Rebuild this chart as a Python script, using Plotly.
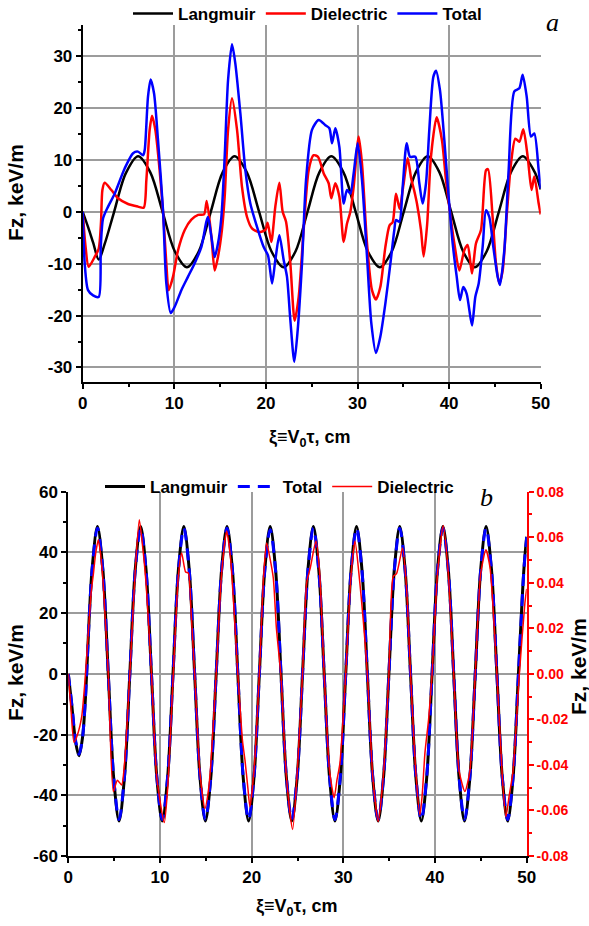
import plotly.graph_objects as go

# ---------------- panel a : wake fields along the bunch ----------------
lang_a_x = [0, 0.6, 1.15, 1.75, 2.4, 3.4, 4.7, 6.05, 7.38, 8.72, 10.05, 11.38, 12.68, 13.98,
            15.28, 16.58, 17.92, 19.26, 20.6, 21.94, 23.24, 24.54, 25.84, 27.14, 28.47, 29.8,
            31.12, 32.45, 33.75, 35.05, 36.36, 37.66, 38.95, 40.23, 41.52, 42.8, 44.11, 45.43,
            46.74, 48.05, 49.36, 50.0]
lang_a_y = [0, -3.0, -6.0, -9.2, -6.2, -0.2, 7.4, 10.7, 7.6, 0, -7.6, -10.7, -7.6, 0,
            7.6, 10.7, 7.6, 0, -7.6, -10.7, -7.6, 0, 7.6, 10.7, 7.6, 0,
            -7.6, -10.7, -7.6, 0, 7.6, 10.7, 7.6, 0, -7.6, -10.7, -7.6, 0,
            7.6, 10.7, 7.6, 4.3]

diel_a_x = [0, 0.3, 0.65, 1.31, 1.75, 2.0, 2.15, 2.4, 3.13, 3.86, 4.95, 6.04, 6.66, 6.95,
            7.31, 7.57, 7.93, 8.4, 8.77, 9.13, 9.39, 9.86, 10.41, 11.14, 11.86, 12.6, 13.25,
            13.54, 14.05, 14.41, 14.77, 15.2, 15.5, 15.87, 16.3, 16.85, 17.39, 17.94, 18.48,
            19.21, 19.94, 20.19, 20.59, 21.03, 21.47, 21.83, 22.2, 22.67, 23.14, 23.58, 24.12,
            24.67, 25.2, 25.69, 26.31, 26.85, 27.14, 27.58, 28.02, 28.49, 28.85, 29.22, 29.58,
            30.13, 30.49, 31.04, 31.58, 32.02, 32.49, 33.04, 33.5, 33.84, 34.2, 34.6, 35.0,
            35.48, 35.85, 36.2, 36.5, 36.93, 37.22, 37.6, 38.02, 38.64, 39.22, 39.66, 40.21,
            40.57, 41.12, 41.66, 42.03, 42.5, 42.93, 43.48, 44.03, 44.25, 44.75, 45.12, 45.48,
            45.85, 46.28, 46.76, 47.23, 47.67, 48.1, 48.58, 49.0, 49.3, 49.78, 50.0]
diel_a_y = [0, -6.5, -10.6, -8.7, -7.1, -2.0, 4.2, 5.6, 4.2, 2.6, 1.5, 1.0, 0.8, 6.1,
            15.8, 18.5, 15.8, 8.0, 0, -10.0, -15.1, -12.5, -7.4, -3.5, -1.5, -0.6, -0.5,
            2.1, -4.8, -11.3, -8.7, -3.5, 2.9, 15.8, 21.9, 15.8, 4.8, -1.0, -3.2,
            -3.9, -3.5, -2.1, -5.8, 1.0, 5.6, 0, -1.9, -10.0, -21.0, -16.4, -3.5,
            8.0, 10.9, 10.6, 7.4, 5.5, 2.6, 5.5, 2.9, -5.8, -2.3, 0, 4.8,
            14.5, 9.3, -6.1, -15.1, -16.9, -14.5, -6.8, -2.6, -2.0, 3.5, 0.6, 5.0,
            10.3, 6.5, 4.0, 1.5, -3.5, -8.6, -2.5, 10.6, 18.2, 13.8, 6.1, -1.6,
            -6.1, -11.3, -7.4, -6.4, -11.9, -6.1, -3.5, 8.0, 8.2, -1.0, -10.0, -13.8,
            -11.3, -1.0, 9.3, 14.1, 13.5, 15.9, 10.6, 4.2, 6.8, 1.6, -0.5]

total_a_x = [0, 0.22, 0.58, 1.13, 1.75, 1.97, 2.22, 2.77, 3.49, 4.59, 5.5, 6.04, 6.6, 6.77,
             7.13, 7.42, 7.79, 8.22, 8.77, 9.13, 9.61, 10.04, 10.77, 11.5, 12.2, 12.95, 13.5,
             13.68, 14.05, 14.41, 14.77, 15.14, 15.5, 15.87, 16.3, 16.66, 17.21, 17.76, 18.3,
             19.03, 19.76, 20.23, 20.67, 21.03, 21.47, 21.94, 22.3, 22.67, 23.1, 23.47, 23.94,
             24.38, 25.03, 25.76, 26.49, 26.93, 27.22, 27.58, 28.02, 28.49, 28.85, 29.22, 29.58,
             30.02, 30.49, 31.04, 31.51, 32.02, 32.49, 33.04, 33.59, 34.02, 34.2, 34.57, 34.93,
             35.37, 35.73, 36.31, 36.75, 37.11, 37.48, 37.84, 38.28, 38.57, 39.0, 39.48, 39.95,
             40.39, 40.83, 41.19, 41.55, 41.92, 42.5, 42.86, 43.23, 43.66, 44.03, 44.39, 44.83,
             45.3, 45.55, 46.03, 46.5, 47.12, 47.67, 48.03, 48.47, 48.94, 49.3, 49.78, 50.0]
total_a_y = [0, -10.0, -15.1, -16.1, -16.4, -6.8, -1.3, 1.0, 3.5, 8.4, 11.3, 11.6, 10.9, 11.9,
             22.2, 25.5, 22.8, 13.8, 0.3, -13.8, -19.5, -18.3, -15.1, -12.5, -10.0, -6.8, -1.9,
             -1.0, -4.8, -8.7, -6.1, -1.0, 10.6, 25.4, 32.3, 28.6, 19.0, 8.0, 1.6,
             -2.9, -6.8, -8.4, -13.8, -9.3, -4.5, -9.3, -12.5, -20.9, -28.9, -22.8, -10.0,
             6.1, 15.8, 17.7, 16.7, 16.1, 13.2, 16.1, 12.5, 1.6, 4.2, 3.5, 7.4,
             13.2, 6.1, -8.7, -21.5, -27.2, -24.1, -17.7, -10.0, -3.5, -1.6, -1.9, 4.8,
             13.2, 10.6, 10.6, 5.5, 1.6, 5.5, 15.8, 26.0, 27.2, 23.5, 13.8, 2.9,
             -6.1, -12.5, -17.0, -14.5, -15.8, -21.9, -16.4, -13.8, -6.8, 0.3, -1.0, -6.8,
             -12.5, -14.1, -7.4, 8.0, 23.2, 23.8, 26.4, 22.2, 14.5, 15.1, 8.0, 4.5]

# ---------------- panel b : long-bunch case ----------------
lang_b_x = [0, 0.4, 0.8, 1.17, 1.55, 1.85, 2.0, 2.59,
            3.18, 3.77, 4.36, 4.95, 5.535, 6.12, 6.71, 7.30,
            7.89, 8.48, 9.07, 9.66, 10.245, 10.83, 11.42, 12.01,
            12.60, 13.19, 13.78, 14.37, 14.955, 15.54, 16.13, 16.72,
            17.31, 17.90, 18.49, 19.08, 19.665, 20.25, 20.84, 21.43,
            22.02, 22.61, 23.20, 23.79, 24.375, 24.96, 25.55, 26.14,
            26.73, 27.32, 27.91, 28.50, 29.085, 29.67, 30.26, 30.85,
            31.44, 32.03, 32.62, 33.21, 33.795, 34.38, 34.97, 35.56,
            36.15, 36.74, 37.33, 37.92, 38.505, 39.09, 39.68, 40.27,
            40.86, 41.45, 42.04, 42.63, 43.215, 43.80, 44.39, 44.98,
            45.57, 46.16, 46.75, 47.34, 47.925, 48.51, 49.10, 49.69, 50.0]
lang_b_y = [0, -11, -22.5, -27, -21, -9, 0, 34.3,
            48.5, 34.3, 0, -34.3, -48.5, -34.3, 0, 34.3,
            48.5, 34.3, 0, -34.3, -48.5, -34.3, 0, 34.3,
            48.5, 34.3, 0, -34.3, -48.5, -34.3, 0, 34.3,
            48.5, 34.3, 0, -34.3, -48.5, -34.3, 0, 34.3,
            48.5, 34.3, 0, -34.3, -48.5, -34.3, 0, 34.3,
            48.5, 34.3, 0, -34.3, -48.5, -34.3, 0, 34.3,
            48.5, 34.3, 0, -34.3, -48.5, -34.3, 0, 34.3,
            48.5, 34.3, 0, -34.3, -48.5, -34.3, 0, 34.3,
            48.5, 34.3, 0, -34.3, -48.5, -34.3, 0, 34.3,
            48.5, 34.3, 0, -34.3, -48.5, -34.3, 0, 34.3, 45.2]

total_b_x = lang_b_x
total_b_y = [0, -10.5, -22, -26.5, -21, -9, 0, 34.0,
             48.0, 34.0, 0, -34.0, -48.0, -34.0, 0, 34.0,
             48.0, 34.0, 0, -34.0, -48.0, -34.0, 0, 34.0,
             48.0, 34.0, 0, -34.0, -48.0, -34.0, 0, 34.0,
             48.0, 34.0, 0, -34.0, -48.0, -34.0, 0, 34.0,
             47.5, 34.0, 0, -34.0, -48.0, -34.0, 0, 34.0,
             48.0, 34.0, 0, -34.0, -48.0, -34.0, 0, 34.0,
             48.0, 34.0, 0, -34.0, -48.0, -34.0, 0, 34.0,
             48.0, 34.0, 0, -34.0, -48.0, -34.0, 0, 34.0,
             48.0, 34.0, 0, -34.0, -48.0, -34.0, 0, 34.0,
             48.0, 34.0, 0, -34.0, -48.0, -34.0, 0, 34.0, 45.0]

# dielectric contribution, read on the right-hand axis
diel_b_x = [0, 0.3, 0.62, 1.0, 1.46, 1.8, 2.1, 2.5, 2.74, 3.0, 3.27, 3.5, 3.8, 4.36,
            4.91, 5.35, 5.82, 6.12, 6.71, 7.30, 7.74, 8.0, 8.48, 9.07, 9.66, 10.47, 10.83,
            11.42, 12.0, 12.36, 12.8, 13.09, 13.4, 13.78, 14.37, 14.9, 15.3, 15.54, 16.13,
            16.72, 17.27, 17.7, 18.49, 19.0, 19.27, 19.6, 19.81, 20.25, 20.84, 21.3, 21.63,
            22.0, 22.36, 22.7, 23.2, 23.79, 24.47, 24.96, 25.55, 26.0, 26.4, 27.01, 27.4,
            27.91, 28.5, 29.0, 29.3, 29.63, 30.26, 30.85, 31.27, 31.7, 32.62, 33.21, 33.8,
            34.38, 34.97, 35.44, 35.8, 36.46, 36.9, 37.33, 37.92, 38.35, 38.6, 38.9, 39.3,
            39.68, 40.27, 40.9, 41.45, 42.04, 42.63, 43.26, 43.8, 44.39, 44.98, 45.55, 46.0,
            46.75, 47.34, 47.73, 48.1, 48.51, 49.2, 49.8, 50.0]
diel_b_y = [0, -0.016, -0.030, -0.0267, -0.0188, -0.004, 0.0133, 0.036, 0.044, 0.0533, 0.0589, 0.0533, 0.040, 0,
            -0.0517, -0.0467, -0.0488, -0.040, 0, 0.0453, 0.0677, 0.060, 0.040, 0, -0.0457, -0.0653, -0.0507,
            -0.0027, 0.0427, 0.0531, 0.0447, 0.0443, 0.0267, 0, -0.044, -0.0591, -0.0507, -0.040, 0,
            0.044, 0.0627, 0.0507, 0, -0.0293, -0.0379, -0.0507, -0.0584, -0.0427, 0, 0.0427, 0.0575,
            0.0507, 0.0421, 0.020, -0.0013, -0.0453, -0.0684, -0.044, 0, 0.0399, 0.0467, 0.0583, 0.0453,
            0, -0.0427, -0.0544, -0.0467, -0.0392, 0, 0.044, 0.0583, 0.044, 0, -0.0453, -0.0649,
            -0.044, 0, 0.0428, 0.044, 0.0553, 0.0373, 0, -0.044, -0.062, -0.0533, -0.0347, -0.020,
            0, 0.044, 0.0652, 0.044, 0, -0.0427, -0.0517, -0.0427, 0, 0.044, 0.0545, 0.0467,
            0, -0.0453, -0.0628, -0.0533, -0.0427, 0, 0.031, 0.0373]

x_ticks = [0, 10, 20, 30, 40, 50]
x_ticklabels = ['0', '10', '20', '30', '40', '50']
ya_ticks = [-30, -20, -10, 0, 10, 20, 30]
ya_ticklabels = ['-30', '-20', '-10', '0', '10', '20', '30']
yb_ticks = [-60, -40, -20, 0, 20, 40, 60]
yb_ticklabels = ['-60', '-40', '-20', '0', '20', '40', '60']
yr_ticks = [-0.08, -0.06, -0.04, -0.02, 0.0, 0.02, 0.04, 0.06, 0.08]
yr_ticklabels = ['-0.08', '-0.06', '-0.04', '-0.02', '0.00', '0.02', '0.04', '0.06', '0.08']

W, H = 589, 926
SANS = "Liberation Sans, Arial, sans-serif"
SERIF = "Liberation Serif, Times New Roman, serif"
GRID = '#9c9c9c'


def px_x(p):
    return p / W


def px_y(p):
    return 1 - p / H


fig = go.Figure()

# panel a traces
fig.add_trace(go.Scatter(x=lang_a_x, y=lang_a_y, name='Langmuir', mode='lines',
                         line=dict(color='black', width=2.5, shape='spline', smoothing=0.9),
                         xaxis='x', yaxis='y', legend='legend'))
fig.add_trace(go.Scatter(x=diel_a_x, y=diel_a_y, name='Dielectric', mode='lines',
                         line=dict(color='#ff0000', width=2.5, shape='spline', smoothing=0.7),
                         xaxis='x', yaxis='y', legend='legend'))
fig.add_trace(go.Scatter(x=total_a_x, y=total_a_y, name='Total', mode='lines',
                         line=dict(color='#0000ff', width=2.5, shape='spline', smoothing=0.7),
                         xaxis='x', yaxis='y', legend='legend'))

# panel b traces
fig.add_trace(go.Scatter(x=lang_b_x, y=lang_b_y, name='Langmuir', mode='lines',
                         line=dict(color='black', width=3, shape='spline', smoothing=0.9),
                         xaxis='x2', yaxis='y2', legend='legend2'))
fig.add_trace(go.Scatter(x=total_b_x, y=total_b_y, name='Total', mode='lines',
                         line=dict(color='#0000ff', width=3, dash='12px,8px', shape='spline', smoothing=0.9),
                         xaxis='x2', yaxis='y2', legend='legend2'))
fig.add_trace(go.Scatter(x=diel_b_x, y=diel_b_y, name='Dielectric', mode='lines',
                         line=dict(color='#ff0000', width=1.5, shape='spline', smoothing=0.6),
                         xaxis='x2', yaxis='y3', legend='legend2'))

tickfont = dict(family=SANS, size=17, color='black', weight='bold')


def xaxis_common(domain, anchor):
    return dict(domain=domain, anchor=anchor, range=[0, 50], automargin=False, showline=True,
                linecolor='black', linewidth=2, ticks='outside', ticklen=5, tickwidth=2,
                tickcolor='black', tickmode='array', tickvals=x_ticks, ticktext=x_ticklabels,
                tickfont=tickfont, showgrid=True, gridcolor=GRID, gridwidth=1.5, zeroline=False,
                minor=dict(dtick=5, tick0=0, ticks='outside', ticklen=3, tickwidth=1.5,
                           tickcolor='black', showgrid=False))


legend_font = dict(family=SANS, size=17, color='black', weight='bold')

fig.update_layout(
    template='none',
    width=W, height=H,
    margin=dict(l=0, r=0, t=0, b=0, autoexpand=False),
    paper_bgcolor='white', plot_bgcolor='white',
    showlegend=True,
    xaxis=xaxis_common([px_x(82.7), px_x(540.7)], 'y'),
    yaxis=dict(domain=[px_y(382), px_y(25)], anchor='x', range=[-32.8, 36], automargin=False,
               showline=True, linecolor='black', linewidth=2, ticks='outside', ticklen=5,
               tickwidth=2, tickcolor='black', tickmode='array', tickvals=ya_ticks,
               ticktext=ya_ticklabels, tickfont=tickfont, showgrid=True, gridcolor=GRID,
               gridwidth=1.5, zeroline=False,
               minor=dict(tickvals=[-25, -15, -5, 5, 15, 25, 35], ticks='outside', ticklen=3,
                          tickwidth=1.5, tickcolor='black', showgrid=False)),
    xaxis2=xaxis_common([px_x(68.3), px_x(526.7)], 'y2'),
    yaxis2=dict(domain=[px_y(856), px_y(491.7)], anchor='x2', range=[-60, 60], automargin=False,
                showline=True, linecolor='black', linewidth=2, ticks='outside', ticklen=5,
                tickwidth=2, tickcolor='black', tickmode='array', tickvals=yb_ticks,
                ticktext=yb_ticklabels, tickfont=tickfont, showgrid=True, gridcolor=GRID,
                gridwidth=1.5, zeroline=False,
                minor=dict(tickvals=[-50, -30, -10, 10, 30, 50], ticks='outside', ticklen=3,
                           tickwidth=1.5, tickcolor='black', showgrid=False)),
    yaxis3=dict(overlaying='y2', side='right', anchor='x2', range=[-0.08, 0.08], automargin=False,
                showline=True, linecolor='#ff0000', linewidth=2, ticks='outside', ticklen=5,
                tickwidth=2, tickcolor='#ff0000', tickmode='array', tickvals=yr_ticks,
                ticktext=yr_ticklabels,
                tickfont=dict(family=SANS, size=14, color='#ff0000', weight='bold'),
                showgrid=False, zeroline=False,
                minor=dict(tickvals=[-0.07, -0.05, -0.03, -0.01, 0.01, 0.03, 0.05, 0.07],
                           ticks='outside', ticklen=3, tickwidth=1.5, tickcolor='#ff0000')),
    legend=dict(orientation='h', x=px_x(128), y=px_y(14), xanchor='left', yanchor='middle',
                bgcolor='rgba(0,0,0,0)', borderwidth=0, font=legend_font,
                itemwidth=40, tracegroupgap=0),
    legend2=dict(orientation='h', x=px_x(100), y=px_y(487), xanchor='left', yanchor='middle',
                 bgcolor='rgba(0,0,0,0)', borderwidth=0, font=legend_font,
                 itemwidth=40, tracegroupgap=0),
)


def label(text, xp, yp, font, angle=0):
    return dict(text=text, x=px_x(xp), y=px_y(yp), xref='paper', yref='paper',
                xanchor='center', yanchor='middle', textangle=angle, showarrow=False, font=font)


serif_font = dict(family=SERIF, size=26, color='black')
ytfont = dict(family=SANS, size=21, color='black', weight='bold')
xtfont = dict(family=SANS, size=18, color='black', weight='bold')
ytitle = 'Fz, keV/m'
xtitle = 'ξ≡V<sub>0</sub>τ, cm'

ann = [
    label('<i>a</i>', 552, 22, serif_font),
    label('<i>b</i>', 486, 497, serif_font),
    label(ytitle, 16, 193, ytfont, -90),
    label(ytitle, 15, 673, ytfont, -90),
    label(ytitle, 578, 667, ytfont, -90),
    label(xtitle, 310, 438, xtfont),
    label(xtitle, 297, 907, xtfont),
]
fig.update_layout(annotations=ann)

fig.write_html("out.html")
